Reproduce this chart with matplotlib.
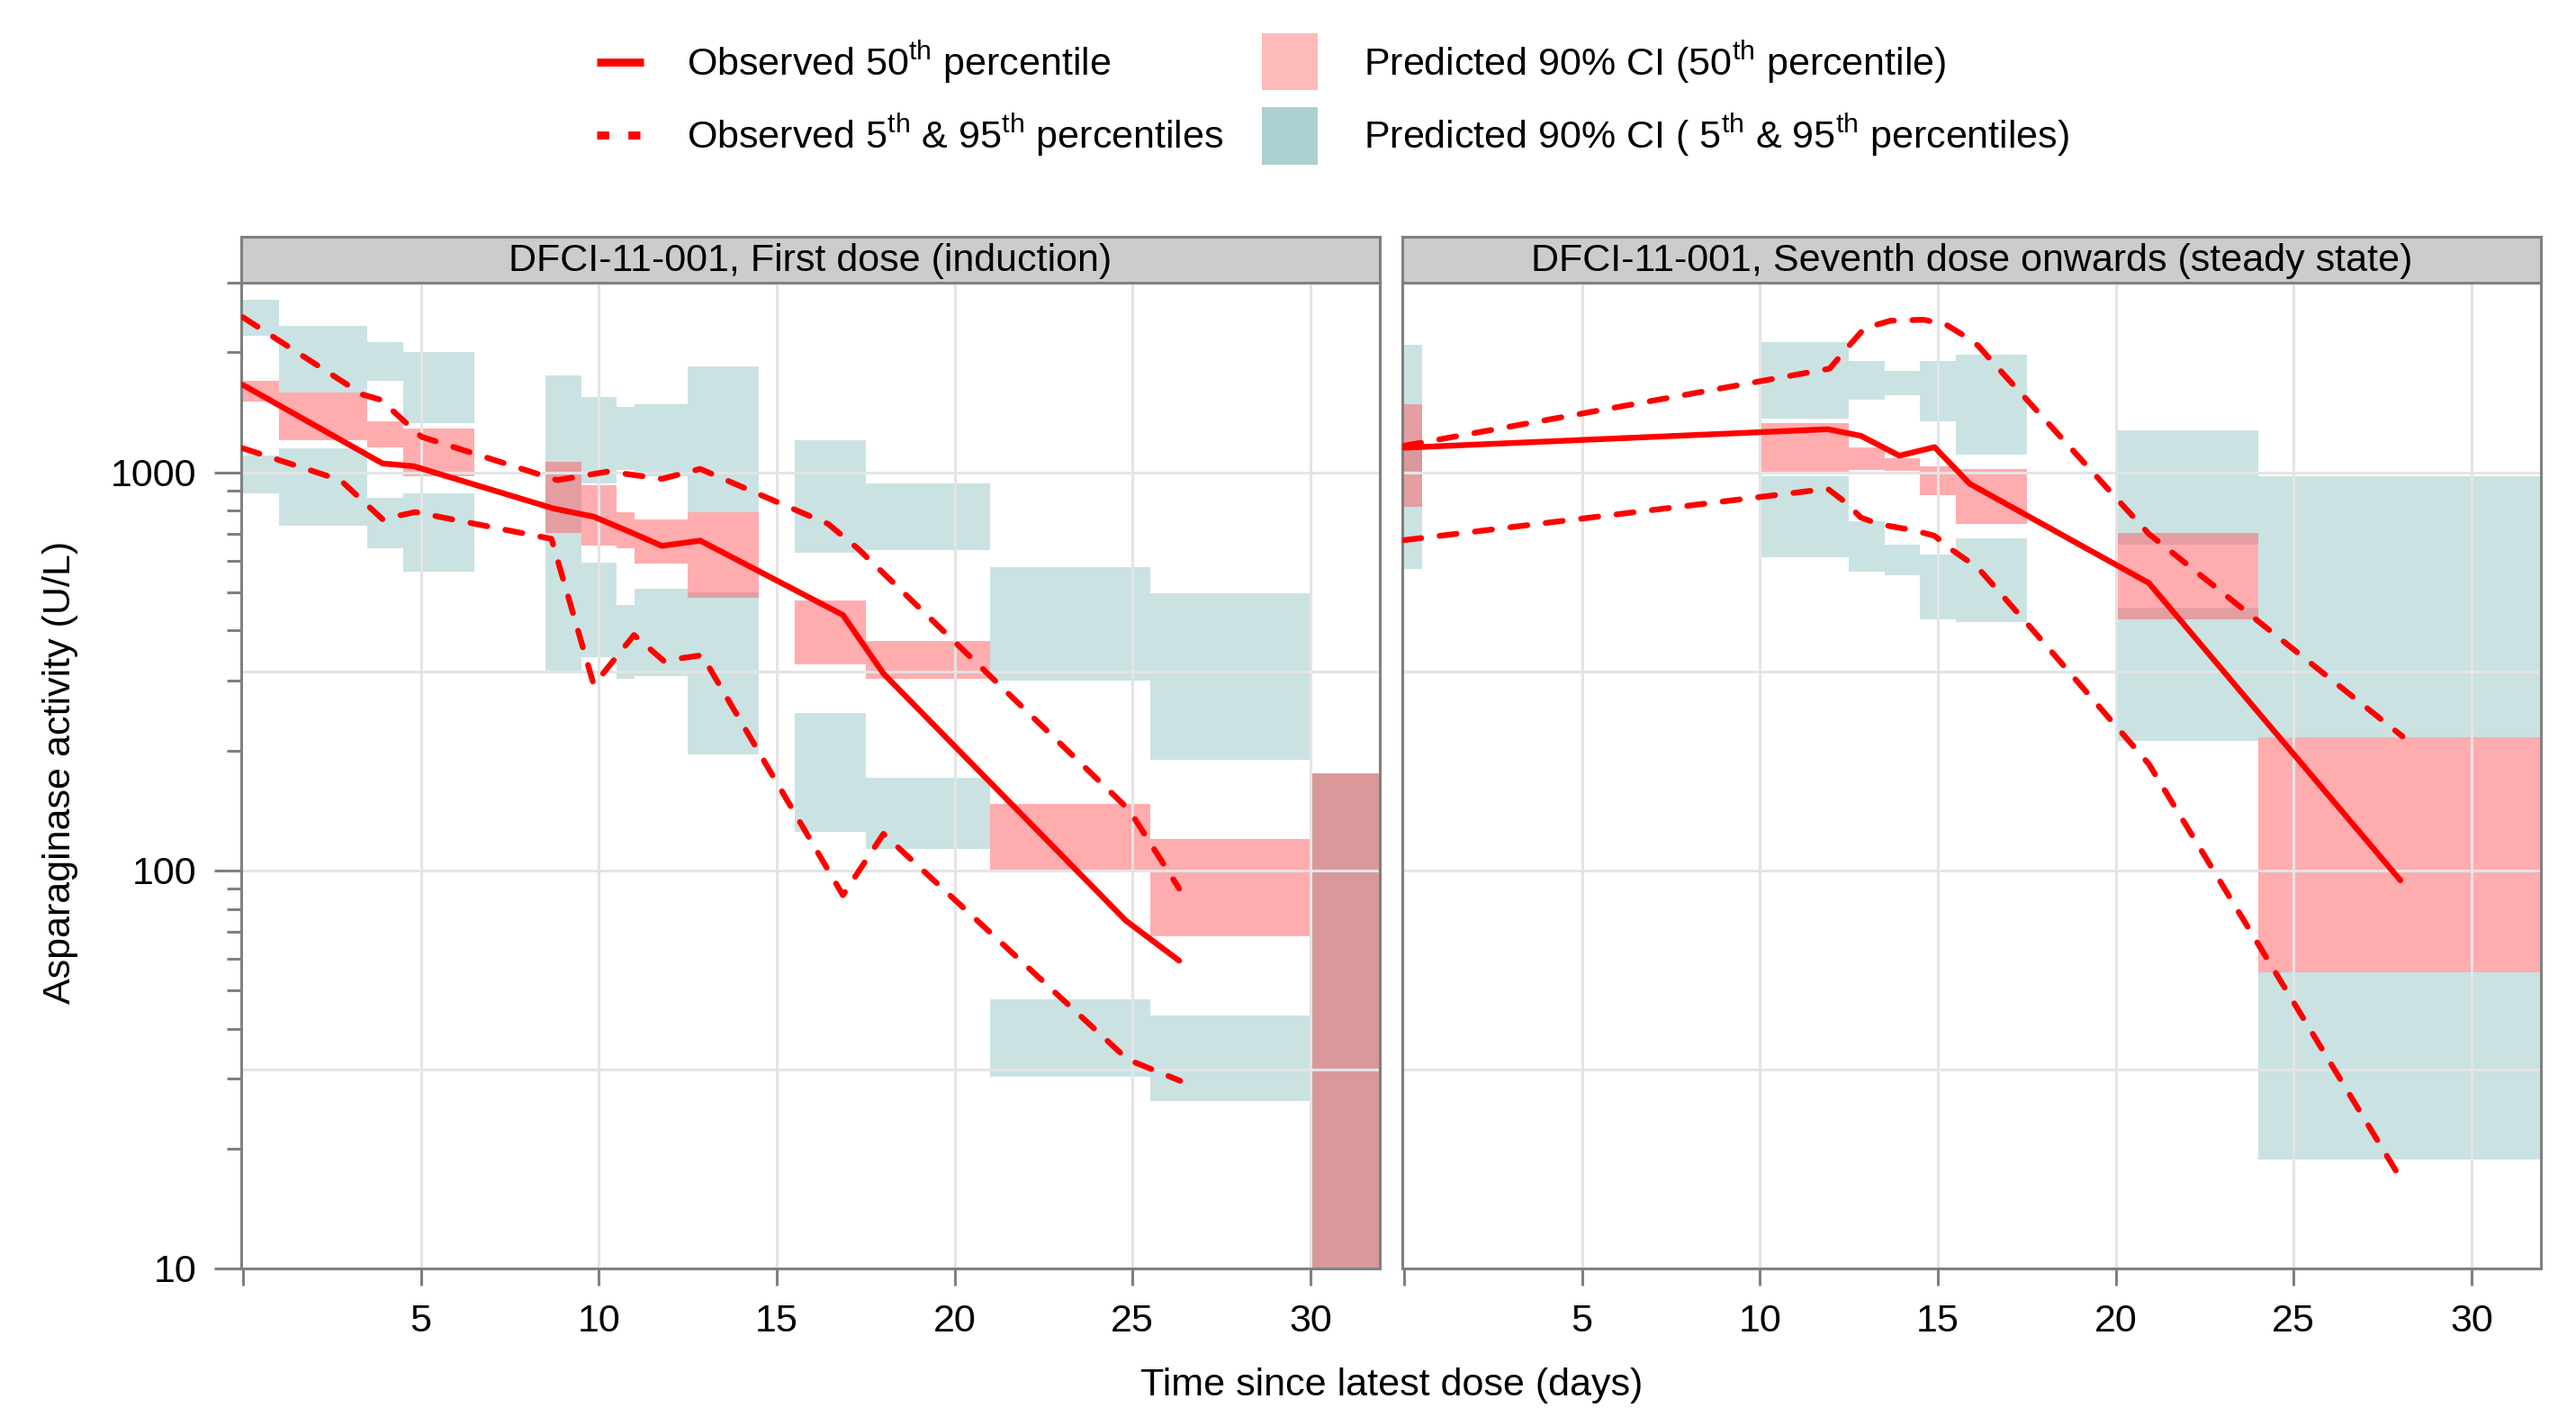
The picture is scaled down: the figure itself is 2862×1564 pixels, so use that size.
import matplotlib
matplotlib.use("Agg")
import matplotlib.pyplot as plt
import numpy as np
from matplotlib.lines import Line2D
from matplotlib.patches import Rectangle
from matplotlib.ticker import FixedLocator, LogLocator, NullFormatter

plt.rcParams["font.family"] = ["Liberation Sans", "DejaVu Sans"]
plt.rcParams["mathtext.fontset"] = "custom"
plt.rcParams["mathtext.rm"] = "Liberation Sans"
plt.rcParams["mathtext.it"] = "Liberation Sans:italic"
plt.rcParams["font.size"] = 15.5

# ---- first dose (induction): predicted 90% CI per time bin ----
ind_bin_lo = [0, 1, 3.5, 4.5, 8.5, 9.5, 10.5, 11, 12.5, 15.5, 17.5, 21, 25.5, 30]
ind_bin_hi = [1, 3.5, 4.5, 6.5, 9.5, 10.5, 11, 12.5, 14.5, 17.5, 21, 25.5, 30, 32.1]
ind_p95_lo = [2203, 1585, 1698, 1329, 855, 937, 1014, 978, 795, 628, 638, 299, 189, 10]
ind_p95_hi = [2716, 2333, 2122, 2004, 1746, 1542, 1462, 1479, 1841, 1203, 937, 578, 496, 175]
ind_p50_lo = [1504, 1203, 1153, 978, 702, 654, 645, 588, 484, 329, 303, 100, 68.2, 10]
ind_p50_hi = [1698, 1585, 1343, 1290, 1062, 926, 795, 762, 795, 475, 376, 147, 120, 175]
ind_p5_lo = [887, 733, 644, 563, 318, 343, 303, 307, 195, 125, 113, 30.3, 26.4, 10]
ind_p5_hi = [1104, 1148, 861, 887, 855, 593, 463, 510, 498, 248, 171, 47.5, 43.3, 175]

# observed percentiles, first dose
ind_obs50_t = [0, 3.92, 4.8, 8.72, 9.86, 10.89, 11.77, 12.85, 16.86, 18.0, 24.81, 26.31]
ind_obs50 = [1656, 1052, 1035, 811, 773, 707, 653, 673, 438, 312, 74.8, 59.3]
ind_obs95_t = [0, 3.36, 3.87, 5.01, 8.83, 10.27, 11.77, 12.85, 16.45, 17.28, 24.9, 26.31]
ind_obs95 = [2449, 1567, 1520, 1228, 955, 1004, 962, 1019, 741, 643, 142, 90]
ind_obs5_t = [0, 2.74, 3.92, 4.84, 8.67, 9.86, 10.99, 11.82, 12.9, 16.86, 18.0, 24.86, 26.34]
ind_obs5 = [1148, 955, 762, 794, 680, 292, 390, 336, 347, 86.6, 123.5, 33.5, 29.6]

# ---- seventh dose onwards (steady state) ----
ss_bin_lo = [0, 10, 12.5, 13.5, 14.5, 15.5, 20, 24]
ss_bin_hi = [0.5, 12.5, 13.5, 14.5, 15.5, 17.5, 24, 32]
ss_p95_lo = [1009, 1362, 1521, 1560, 1343, 1109, 656, 216]
ss_p95_hi = [2089, 2121, 1901, 1795, 1901, 1974, 1274, 977]
ss_p50_lo = [820, 1004, 1015, 1007, 875, 741, 426, 55.5]
ss_p50_hi = [1479, 1329, 1153, 1082, 1032, 1019, 702, 216]
ss_p5_lo = [571, 613, 563, 550, 426, 421, 211, 18.8]
ss_p5_hi = [1194, 979, 753, 656, 620, 681, 457, 55.5]

ss_obs50_t = [0, 11.91, 12.84, 13.92, 14.91, 15.9, 20.93, 28.0]
ss_obs50 = [1152, 1282, 1234, 1100, 1156, 935, 527, 94.4]
ss_obs95_t = [0, 11.96, 12.53, 12.94, 13.67, 14.6, 15.22, 15.75, 16.13, 16.75, 20.93, 28.06]
ss_obs95 = [1165, 1820, 2089, 2300, 2401, 2415, 2351, 2200, 2080, 1803, 700, 217]
ss_obs5_t = [0, 11.39, 11.91, 12.42, 12.84, 13.36, 14.34, 14.91, 15.42, 16.13, 17.57, 20.93, 27.96]
ss_obs5 = [675, 897, 908, 838, 769, 740, 714, 692, 636, 575, 411, 185, 17.1]

titles = ["DFCI-11-001, First dose (induction)",
          "DFCI-11-001, Seventh dose onwards (steady state)"]

W, H = 2862, 1564
TEAL = "#a8cfcf"
PINK = "#ff5b61"
GRID = "#e4e4e4"
FRAME = "#808080"

fig = plt.figure(figsize=(W / 200, H / 200), dpi=200)


def draw_panel(ax, blo, bhi, p95, p50, p5, obs, first):
    ax.set_yscale("log")
    left = np.array(blo, dtype=float)
    width = np.array(bhi, dtype=float) - left
    for lo, hi in (p95, p5):
        lo = np.array(lo, dtype=float)
        ax.bar(left, np.array(hi) - lo, bottom=lo, width=width, align="edge",
               color=TEAL, alpha=0.6, linewidth=0, zorder=1)
    lo = np.array(p50[0], dtype=float)
    ax.bar(left, np.array(p50[1]) - lo, bottom=lo, width=width, align="edge",
           color=PINK, alpha=0.5, linewidth=0, zorder=2)

    for x in range(5, 31, 5):
        ax.axvline(x, color=GRID, lw=1.1, zorder=2.5)
    for y in [10 ** 1.5, 100, 10 ** 2.5, 1000]:
        ax.axhline(y, color=GRID, lw=1.1, zorder=2.5)

    (t50, v50), (t95, v95), (t5, v5) = obs
    ax.plot(t50, v50, color="red", lw=2.3, solid_capstyle="round",
            solid_joinstyle="round", zorder=3)
    for t, v in ((t95, v95), (t5, v5)):
        ax.plot(t, v, color="red", lw=2.3, linestyle=(0, (3.0, 3.2)),
                dash_capstyle="round", zorder=3)

    ax.set_xlim(-0.05, 31.95)
    ax.set_ylim(10, 3000)
    ax.xaxis.set_major_locator(FixedLocator([0, 5, 10, 15, 20, 25, 30]))
    ax.set_xticklabels(["", "5", "10", "15", "20", "25", "30"])
    ax.tick_params(axis="x", length=7, width=1.1, color=FRAME, pad=7)
    if first:
        ax.yaxis.set_major_locator(FixedLocator([10, 100, 1000]))
        ax.set_yticklabels(["10", "100", "1000"])
        ax.yaxis.set_minor_locator(LogLocator(base=10, subs=range(2, 10)))
        ax.yaxis.set_minor_formatter(NullFormatter())
        ax.tick_params(axis="y", which="major", length=10.8, width=1.1,
                       color=FRAME, pad=7)
        ax.tick_params(axis="y", which="minor", length=5.8, width=1.1,
                       color=FRAME)
    else:
        ax.tick_params(axis="y", which="both", left=False, labelleft=False)
    for s in ax.spines.values():
        s.set_color(FRAME)
        s.set_linewidth(1.1)


panel_left = [268 / W, 1558 / W]
panel_w = 1265 / W
bottom = 1 - 1409 / H
height = (1409 - 313.5) / H

panels = [
    (ind_bin_lo, ind_bin_hi, (ind_p95_lo, ind_p95_hi), (ind_p50_lo, ind_p50_hi),
     (ind_p5_lo, ind_p5_hi),
     ((ind_obs50_t, ind_obs50), (ind_obs95_t, ind_obs95), (ind_obs5_t, ind_obs5))),
    (ss_bin_lo, ss_bin_hi, (ss_p95_lo, ss_p95_hi), (ss_p50_lo, ss_p50_hi),
     (ss_p5_lo, ss_p5_hi),
     ((ss_obs50_t, ss_obs50), (ss_obs95_t, ss_obs95), (ss_obs5_t, ss_obs5))),
]

for i, (blo, bhi, p95, p50, p5, obs) in enumerate(panels):
    ax = fig.add_axes([panel_left[i], bottom, panel_w, height])
    draw_panel(ax, blo, bhi, p95, p50, p5, obs, i == 0)
    strip = fig.add_axes([panel_left[i], bottom + height, panel_w, 51 / H])
    strip.set_facecolor("#cccccc")
    strip.set_xticks([])
    strip.set_yticks([])
    for s in strip.spines.values():
        s.set_color(FRAME)
        s.set_linewidth(1.1)
    strip.text(0.5, 0.47, titles[i], ha="center", va="center",
               transform=strip.transAxes)

fig.text(1546 / W, 1 - 1539 / H, "Time since latest dose (days)",
         ha="center", va="center")
fig.text(67 / W, 1 - 858 / H, "Asparaginase activity (U/L)",
         ha="center", va="center", rotation=90)

# legend
y1, y2 = 1 - 69 / H, 1 - 150 / H
fig.add_artist(Line2D([663 / W, 715 / W], [y1, y1], transform=fig.transFigure,
                      color="red", lw=3.2, solid_capstyle="butt"))
fig.add_artist(Line2D([663 / W, 711 / W], [y2, y2], transform=fig.transFigure,
                      color="red", lw=3.2, linestyle=(0, (1.5, 2.4))))
fig.add_artist(Rectangle((1402 / W, 1 - 100 / H), 62 / W, 63 / H,
                         transform=fig.transFigure, facecolor="#ffbbb9",
                         edgecolor="none"))
fig.add_artist(Rectangle((1402 / W, 1 - 183 / H), 62 / W, 64 / H,
                         transform=fig.transFigure, facecolor="#aad0cf",
                         edgecolor="none"))
fig.text(763 / W, y1, r"Observed 50$^{\rm th}$ percentile", va="center")
fig.text(763 / W, y2, r"Observed 5$^{\rm th}$ & 95$^{\rm th}$ percentiles",
         va="center")
fig.text(1515 / W, y1, r"Predicted 90% CI (50$^{\rm th}$ percentile)",
         va="center")
fig.text(1515 / W, y2,
         r"Predicted 90% CI ( 5$^{\rm th}$ & 95$^{\rm th}$ percentiles)",
         va="center")

fig.savefig("out.png", dpi=200)
